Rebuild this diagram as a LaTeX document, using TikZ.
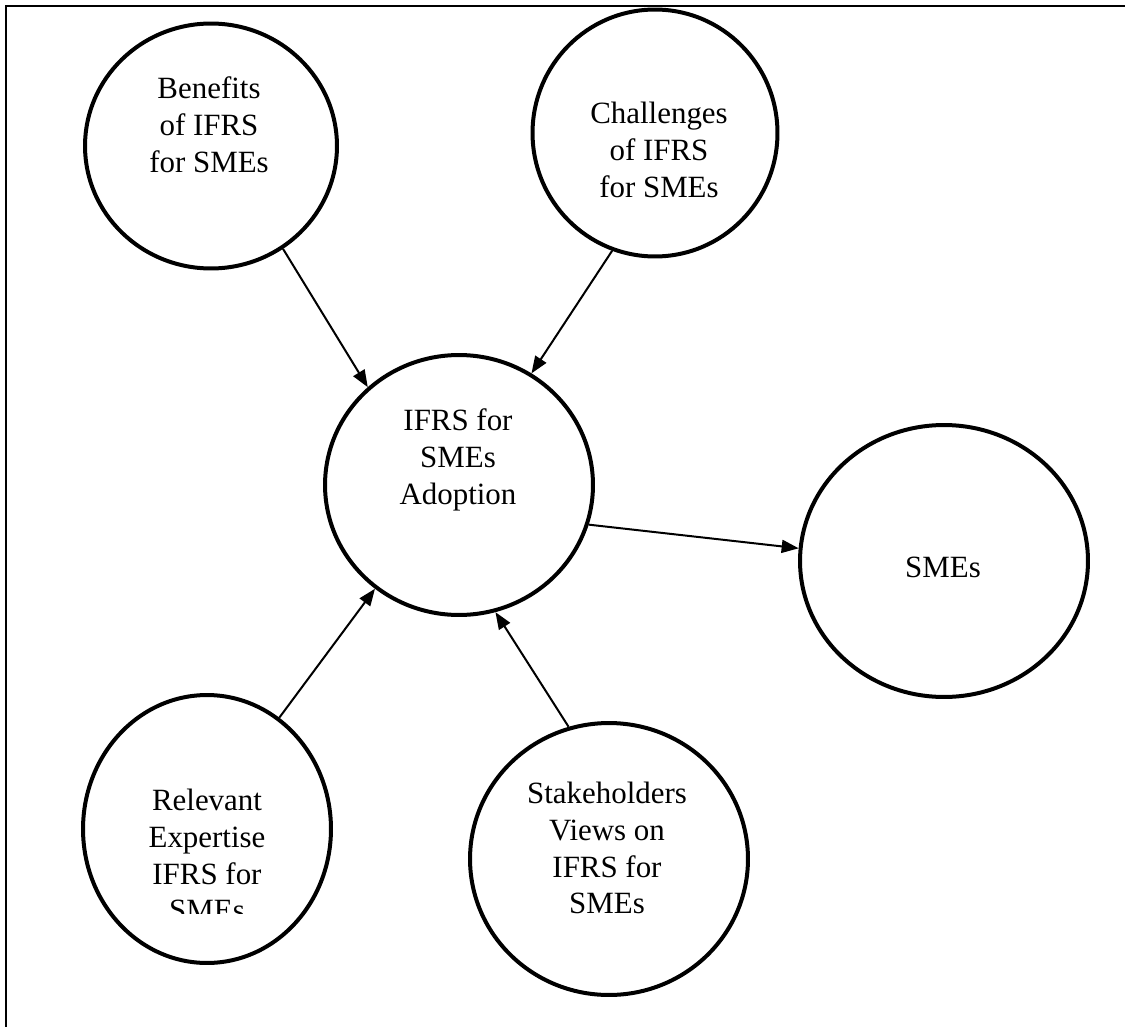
\documentclass[tikz,border=0pt]{standalone}
\usepackage{fontspec}
\setmainfont{Liberation Serif}
\usetikzlibrary{arrows.meta, shapes.geometric}

\begin{document}
\begin{tikzpicture}[x=0.02cm, y=-0.02cm,
    bubble/.style={draw, ellipse, line width=0.08cm, inner sep=0pt},
    caption/.style={align=center, inner sep=0pt, font=\fontsize{17.6}{21}\selectfont},
    link/.style={-{Triangle[length=0.34cm, width=0.26cm]}, line width=0.04cm}]
    \useasboundingbox (0,0) rectangle (1125,1027);

    % Frame (top and left edge only)
    \draw[line width=0.04cm] (1125,6) -- (6,6) -- (6,1027);

    % Benefits
    \node[bubble, minimum width=5.04cm, minimum height=4.9cm] (benefits) at (211,146) {};
    \node[caption] (benefits text) at (209,125) {Benefits\\of IFRS\\for SMEs};

    % Challenges
    \node[bubble, minimum width=4.9cm, minimum height=4.94cm] (challenges) at (655,133) {};
    \node[caption] (challenges text) at (659,150) {Challenges\\of IFRS\\for SMEs};

    % Adoption
    \node[bubble, minimum width=5.36cm, minimum height=5.2cm] (adoption) at (459,485) {};
    \node[caption] (adoption text) at (458,460) {IFRS for\\SMEs\\Adoption};

    % SMEs
    \node[bubble, minimum width=5.76cm, minimum height=5.44cm] (smes) at (944,561) {};
    \node[caption] (smes text) at (943,567) {SMEs};

    % Relevant expertise (last line cut off)
    \node[bubble, minimum width=4.96cm, minimum height=5.36cm] (relevant) at (207,829) {};
    \begin{scope}
        \clip (80,700) rectangle (340,913);
        \node[caption] (relevant text) at (207,855) {Relevant\\Expertise\\IFRS for\\SMEs};
    \end{scope}

    % Stakeholders
    \node[bubble, minimum width=5.56cm, minimum height=5.44cm] (stakeholders) at (609,859) {};
    \node[caption] (stakeholders text) at (607,848) {Stakeholders\\Views on\\IFRS for\\SMEs};

    % Arrows
    \draw[link] (benefits.-55) -- (adoption.133);
    \draw[link] (challenges.-110) -- (adoption.57);
    \draw[link] (relevant.57) -- (adoption.231);
    \draw[link] (stakeholders.107) -- (adoption.-74);
    \draw[link] (adoption.-17) -- (smes.175);
\end{tikzpicture}
\end{document}
